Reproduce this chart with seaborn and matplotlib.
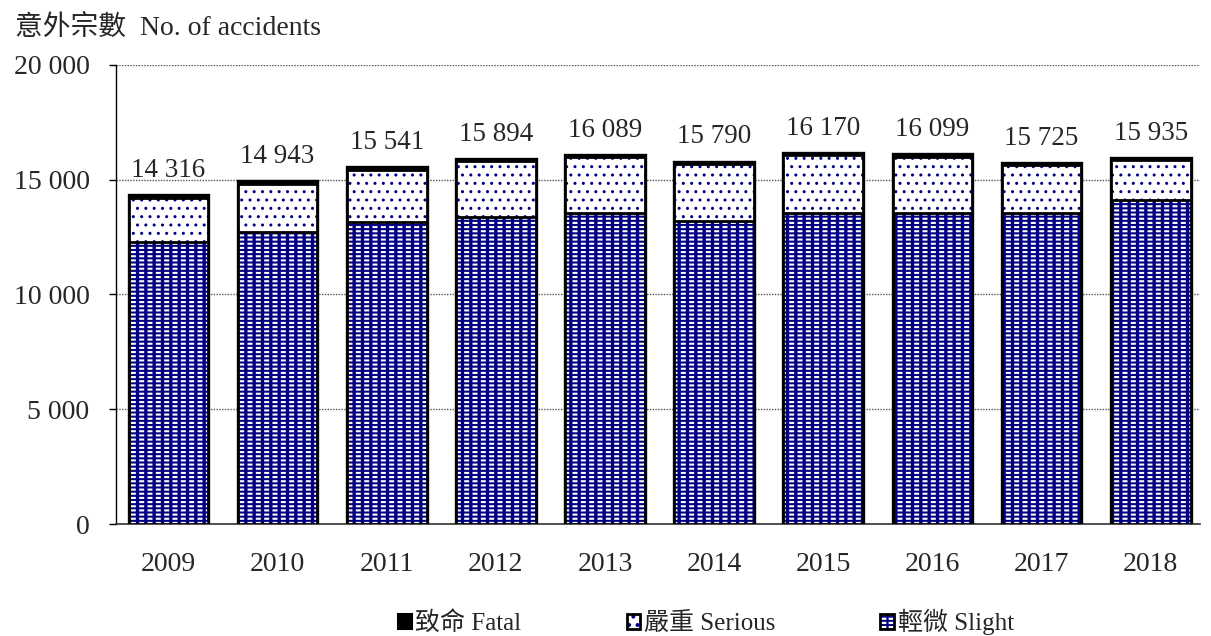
import matplotlib
matplotlib.use("Agg")
import matplotlib.pyplot as plt
import seaborn as sns
import numpy as np
import pandas as pd
from matplotlib.patches import Patch
from matplotlib.legend_handler import HandlerTuple

years = ["2009", "2010", "2011", "2012", "2013", "2014", "2015", "2016", "2017", "2018"]
totals = [14316, 14943, 15541, 15894, 16089, 15790, 16170, 16099, 15725, 15935]
fatal = [120, 110, 110, 100, 100, 110, 110, 100, 100, 100]
slight = [12280, 12740, 13170, 13390, 13530, 13180, 13560, 13570, 13560, 14120]
serious = [t - f - s for t, f, s in zip(totals, fatal, slight)]

series_labels = ["致命 Fatal", "嚴重 Serious", "輕微 Slight"]
y_title = "意外宗數  No. of accidents"
yticks = [0, 5000, 10000, 15000, 20000]

NAVY = "#000080"
sns.set_theme(style="white")
plt.rcParams["font.family"] = ["Liberation Serif", "Noto Sans CJK TC"]
plt.rcParams["hatch.linewidth"] = 1.6

df = pd.DataFrame({"year": years, "total": totals,
                   "ser_cum": [a + b for a, b in zip(serious, slight)],
                   "slight": slight})

fig = plt.figure(figsize=(12.11, 6.36), dpi=100)
ax = fig.add_axes([0.0958, 0.176, 0.895, 0.722])

W = 0.73

def layer(col, hlw=1.6, **style):
    n0 = len(ax.patches)
    with plt.rc_context({"hatch.linewidth": hlw}):
        sns.barplot(data=df, x="year", y=col, ax=ax, width=W, saturation=1,
                    color="white", zorder=3)
        for p in ax.patches[n0:]:
            p.set(**style)
            if hasattr(p, "set_hatch_linewidth"):
                p.set_hatch_linewidth(hlw)

# fatal (total height) in black
layer("total", facecolor="black", edgecolor="black", linewidth=2.4)
# serious: white with small navy dots
layer("ser_cum", hlw=1.0, facecolor="white", edgecolor=NAVY, hatch="..", linewidth=0)
layer("ser_cum", facecolor="none", edgecolor="black", linewidth=2)
# slight: navy with white dashes
layer("slight", hlw=1.5, facecolor=NAVY, edgecolor="white", hatch="----", linewidth=0)
layer("slight", hlw=2.4, facecolor="none", edgecolor=NAVY, hatch="||", linewidth=0)
layer("slight", facecolor="none", edgecolor="black", linewidth=2)

for i, t in enumerate(totals):
    ax.annotate(f"{t:,}".replace(",", " "), xy=(i, t), xytext=(0, 13),
                textcoords="offset points", ha="center", va="baseline", fontsize=19.5)

ax.set_ylim(0, 20000)
ax.set_xlim(-0.48, 9.45)
ax.set_yticks(yticks)
ax.set_yticklabels([f"{v:,}".replace(",", " ") for v in yticks], fontsize=20)
ax.set_xticks(range(len(years)))
ax.set_xticklabels(years, fontsize=20)
ax.set_xlabel("")
ax.set_ylabel("")
ax.yaxis.grid(True, linestyle=(0, (1, 1)), color="#555555", linewidth=1)
ax.set_axisbelow(True)
for s in ["top", "right"]:
    ax.spines[s].set_visible(False)
ax.spines["left"].set_color("black")
ax.spines["left"].set_linewidth(1)
ax.spines["bottom"].set_color("#333333")
ax.spines["bottom"].set_linewidth(1.2)
ax.tick_params(axis="y", left=True, length=5, width=1, color="black", pad=14)
ax.tick_params(axis="x", bottom=False, pad=14)

fig.text(0.012, 0.956, y_title, fontsize=20, va="center", ha="left")

with plt.rc_context({"hatch.linewidth": 1.0}):
    h_ser = (Patch(facecolor="white", edgecolor=NAVY, hatch="..", linewidth=0),
             Patch(facecolor="none", edgecolor="black", linewidth=2))
h_fatal = Patch(facecolor="black", edgecolor="black", linewidth=1.5)
with plt.rc_context({"hatch.linewidth": 1.5}):
    h_sl1 = Patch(facecolor=NAVY, edgecolor="white", hatch="----", linewidth=0)
with plt.rc_context({"hatch.linewidth": 2.4}):
    h_sl2 = Patch(facecolor="none", edgecolor=NAVY, hatch="||", linewidth=0)
h_sl = (h_sl1, h_sl2, Patch(facecolor="none", edgecolor="black", linewidth=2))
fig.legend([h_fatal, h_ser, h_sl], series_labels, loc="center",
           bbox_to_anchor=(0.583, 0.022), ncol=3, frameon=False, fontsize=18,
           handlelength=0.55, handleheight=0.55, handletextpad=0.15,
           columnspacing=4.2, handler_map={tuple: HandlerTuple(ndivide=1, pad=0)})

fig.savefig("out.png", dpi=100)
